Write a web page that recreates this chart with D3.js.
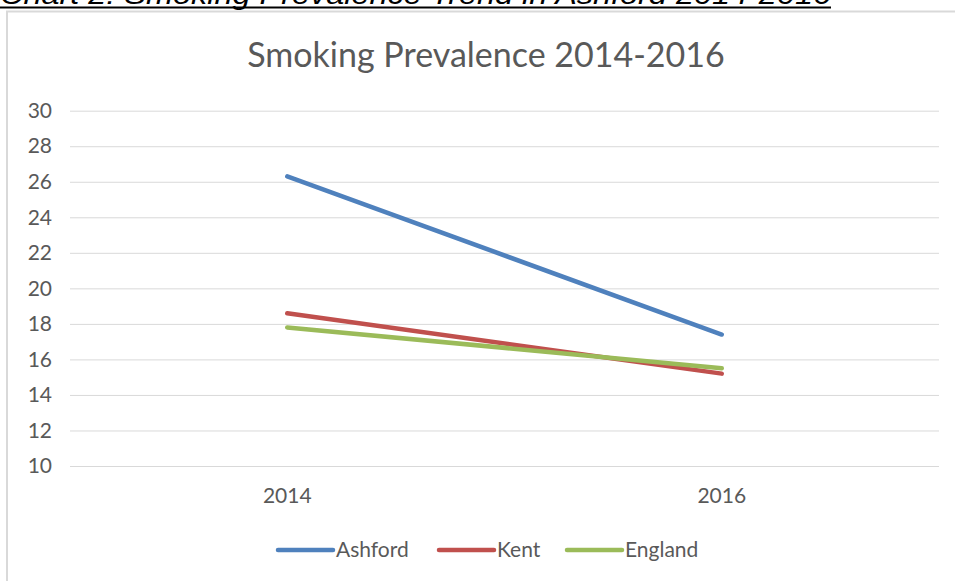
<!DOCTYPE html>
<html>
<head>
<meta charset="utf-8">
<script src="https://cdn.jsdelivr.net/npm/d3@7"></script>
<style>
  body { margin: 0; background: #fff; }
  svg { display: block; }
</style>
</head>
<body>
<div id="chart"></div>
<script>
var width = 955;
var height = 581;

// data
var years = ["2014", "2016"];
var ashford = [26.3, 17.4];
var kent = [18.6, 15.2];
var england = [17.8, 15.5];
var seriesNames = ["Ashford", "Kent", "England"];
var seriesColors = ["#4f81bd", "#c0504d", "#9bbb59"];
var yTicks = [10, 12, 14, 16, 18, 20, 22, 24, 26, 28, 30];

var series = [ashford, kent, england];

var plot = {left: 70, right: 939, top: 110.7, bottom: 466};

var xScale = d3.scaleBand().domain(years).range([plot.left, plot.right]);
var yScale = d3.scaleLinear().domain([10, 30]).range([plot.bottom, plot.top]);

var svg = d3.select("#chart")
    .append("svg")
        .attr("width", width)
        .attr("height", height)
        .style("font-family", "Lato, 'Open Sans', sans-serif");

// document heading, cut off at the top as in the source
var head = svg.append("text")
    .attr("x", 0)
    .attr("y", 4)
    .attr("font-family", "'Liberation Sans', Arial, sans-serif")
    .attr("font-style", "italic")
    .attr("font-size", 28)
    .attr("fill", "#000")
    .text("Chart 2: Smoking Prevalence Trend in Ashford 2014-2016");
head.attr("textLength", 831).attr("lengthAdjust", "spacingAndGlyphs");
svg.append("rect")
    .attr("x", 0).attr("y", 6.5)
    .attr("width", 831).attr("height", 2)
    .attr("fill", "#000");

// chart frame
svg.append("path")
    .attr("d", "M7," + height + "V11.5H" + width)
    .attr("fill", "none")
    .attr("stroke", "#d9d9d9")
    .attr("stroke-width", 2);

// title
svg.append("text")
    .attr("x", 486)
    .attr("y", 67)
    .attr("text-anchor", "middle")
    .attr("font-size", 34)
    .attr("fill", "#595959")
    .text("Smoking Prevalence 2014-2016");

// grid + y labels
var yAxis = d3.axisLeft(yScale)
    .tickValues(yTicks)
    .tickSize(-(plot.right - plot.left))
    .tickPadding(18);

var gy = svg.append("g")
    .attr("transform", "translate(" + plot.left + ",0)")
    .call(yAxis);
gy.select(".domain").remove();
gy.selectAll(".tick line").attr("stroke", "#d9d9d9").attr("stroke-width", 1);
gy.selectAll(".tick text")
    .attr("fill", "#595959")
    .attr("font-size", 21)
    .attr("font-family", "Lato, 'Open Sans', sans-serif");

// x labels
var xAxis = d3.axisBottom(xScale).tickSize(0).tickPadding(22);
var gx = svg.append("g")
    .attr("transform", "translate(0," + plot.bottom + ")")
    .call(xAxis);
gx.select(".domain").remove();
gx.selectAll(".tick text")
    .attr("fill", "#595959")
    .attr("font-size", 21)
    .attr("font-family", "Lato, 'Open Sans', sans-serif");

// lines
var valueline = d3.line()
    .x(function(d, i) { return xScale(years[i]) + xScale.bandwidth() / 2; })
    .y(function(d) { return yScale(d); });

svg.selectAll("path.series")
    .data(series)
    .enter().append("path")
        .attr("class", "series")
        .attr("d", function(d) { return valueline(d); })
        .attr("fill", "none")
        .attr("stroke", function(d, i) { return seriesColors[i]; })
        .attr("stroke-width", 4.5)
        .attr("stroke-linecap", "round");

// legend
var legendX = [278, 439, 567];
var leg = svg.selectAll("g.legend")
    .data(seriesNames)
    .enter().append("g")
        .attr("class", "legend")
        .attr("transform", function(d, i) { return "translate(" + legendX[i] + ",550)"; });

leg.append("line")
    .attr("x1", 0).attr("x2", 55)
    .attr("y1", 0).attr("y2", 0)
    .attr("stroke", function(d, i) { return seriesColors[i]; })
    .attr("stroke-width", 4.5)
    .attr("stroke-linecap", "round");

leg.append("text")
    .attr("x", 58)
    .attr("y", 7)
    .attr("font-size", 21)
    .attr("fill", "#595959")
    .text(function(d) { return d; });
</script>
</body>
</html>
